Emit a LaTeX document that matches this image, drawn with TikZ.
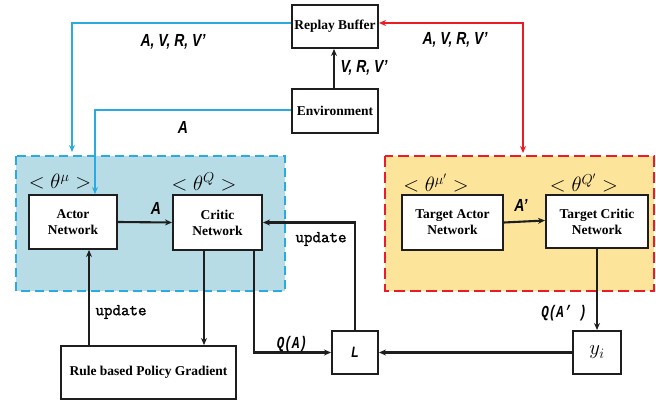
\documentclass[tikz,border=0pt]{standalone}
\usepackage{fontspec}
\usepackage{graphicx}
\setmainfont{Liberation Serif}
\newfontfamily\lblfont{Liberation Sans}
\newfontfamily\qfont{Liberation Mono}
\newfontfamily\updfont{Latin Modern Mono}[FakeBold=1.5]
\usetikzlibrary{arrows.meta,calc}

\definecolor{skyline}{RGB}{41,171,226}
\definecolor{skyfill}{RGB}{183,220,230}
\definecolor{redline}{RGB}{237,28,36}
\definecolor{sandfill}{RGB}{252,228,154}
\definecolor{ink}{RGB}{30,30,30}

% narrow bold italic label text
\newcommand{\lbl}[2][17.5]{\scalebox{0.8}[1]{\fontsize{#1}{#1}\lblfont\bfseries\itshape #2}}

\tikzset{
  netbox/.style={draw=ink, line width=2pt, fill=white, align=center,
    inner sep=0pt, font=\fontsize{13.5}{16}\selectfont\bfseries},
  flow/.style={line width=2.1pt, draw=ink, -{Stealth[length=7pt,width=6pt]}},
  bluefl/.style={line width=2.2pt, draw=skyline, -{Stealth[length=7pt,width=6pt]}},
  redfl/.style={line width=2.2pt, draw=redline, {Stealth[length=7pt,width=6pt]}-{Stealth[length=7pt,width=6pt]}},
  param/.style={font=\fontsize{20}{20}\selectfont},
  upd/.style={font=\fontsize{16.5}{16.5}\updfont\bfseries},
}

\begin{document}
\begin{tikzpicture}[x=1pt,y=-1pt]
\useasboundingbox (0,0) rectangle (656,403);

% dashed groups
\filldraw[fill=skyfill, draw=skyline, line width=2pt, dash pattern=on 9pt off 5pt]
  (16,156) rectangle (285,291);
\filldraw[fill=sandfill, draw=redline, line width=2pt, dash pattern=on 11pt off 5pt]
  (385,156) rectangle (654,291);

% boxes
\node[netbox, minimum width=86pt, minimum height=43pt] (rb) at (335,26.5) {Replay Buffer};
\node[netbox, minimum width=86pt, minimum height=44pt] (env) at (335,111) {Environment};
\node[netbox, minimum width=88pt, minimum height=54pt] (actor) at (73,222) {Actor\\Network};
\node[netbox, minimum width=89pt, minimum height=55pt] (critic) at (217.5,222.5) {Critic\\Network};
\node[netbox, minimum width=101pt, minimum height=55pt] (tactor) at (452.5,222.5) {Target Actor\\Network};
\node[netbox, minimum width=102pt, minimum height=53pt] (tcritic) at (597,221.5) {Target Critic\\Network};
\node[netbox, minimum width=175pt, minimum height=53pt] (rule) at (148.5,372.5) {Rule based Policy Gradient};
\node[netbox, minimum width=46pt, minimum height=43pt] (L) at (355,352.5) {\lbl[15]{L}};
\node[netbox, minimum width=48pt, minimum height=43pt, font=\fontsize{22}{22}\selectfont] (yi) at (597,352.5) {$y_i$};

% parameter labels
\node[param] (pa) at (60,182) {$<\theta^{\mu}>$};
\node[param] (pc) at (204,182) {$<\theta^{Q}>$};
\node[param] (pta) at (436,183) {$<\theta^{\mu'}>$};
\node[param] (ptc) at (584,183) {$<\theta^{Q'}>$};

% free ends of the buffer connectors
\coordinate (blueIn) at (72,152);
\coordinate (redIn) at (523,153);

% buffer and environment flows
\draw[bluefl] ([yshift=3.5pt]rb.west) -| (blueIn);
\draw[bluefl] ([yshift=1pt]env.west) -| ([xshift=22pt]actor.north);
\draw[redfl] ([yshift=3.5pt]rb.east) -| (redIn);
\draw[flow] ([xshift=-1pt]env.north) -- ([xshift=-1pt]rb.south);

% network flows
\draw[flow] (actor.east) -- (critic.west);
\draw[flow] (tactor.east) -- ([yshift=1pt]tcritic.west);
\draw[flow] (L.north) |- (critic.east);
\draw[flow] ([xshift=16pt]actor.south |- rule.north) -- ([xshift=16pt]actor.south);
\draw[flow] ([xshift=-13.5pt]critic.south) -- ([xshift=-13.5pt]critic.south |- rule.north);
\draw[flow] ([xshift=36.5pt]critic.south) |- (L.west);
\draw[flow] (yi.west) -- (L.east);
\draw[flow] (tcritic.south) -- (yi.north);

% connector labels
\node (l1) at (173,42) {\lbl{A, V, R, V’}};
\node (l2) at (455,40) {\lbl{A, V, R, V’}};
\node (l3) at (364,68) {\lbl{V, R, V’}};
\node (l4) at (183,127) {\lbl{A}};
\node (l5) at (156,208) {\lbl{A}};
\node (l6) at (521,205) {\lbl{A’}};
\node[upd] (u1) at (121,312) {update};
\node[upd] (u2) at (321,239) {update};
\node (q1) at (292,344) {\scalebox{0.9}[1.2]{\fontsize{14}{14}\qfont\bfseries\itshape Q(A)}};
\node (q2) at (564,313) {\scalebox{0.9}[1.2]{\fontsize{14}{14}\qfont\bfseries\itshape Q(A’ )}};
\end{tikzpicture}
\end{document}
